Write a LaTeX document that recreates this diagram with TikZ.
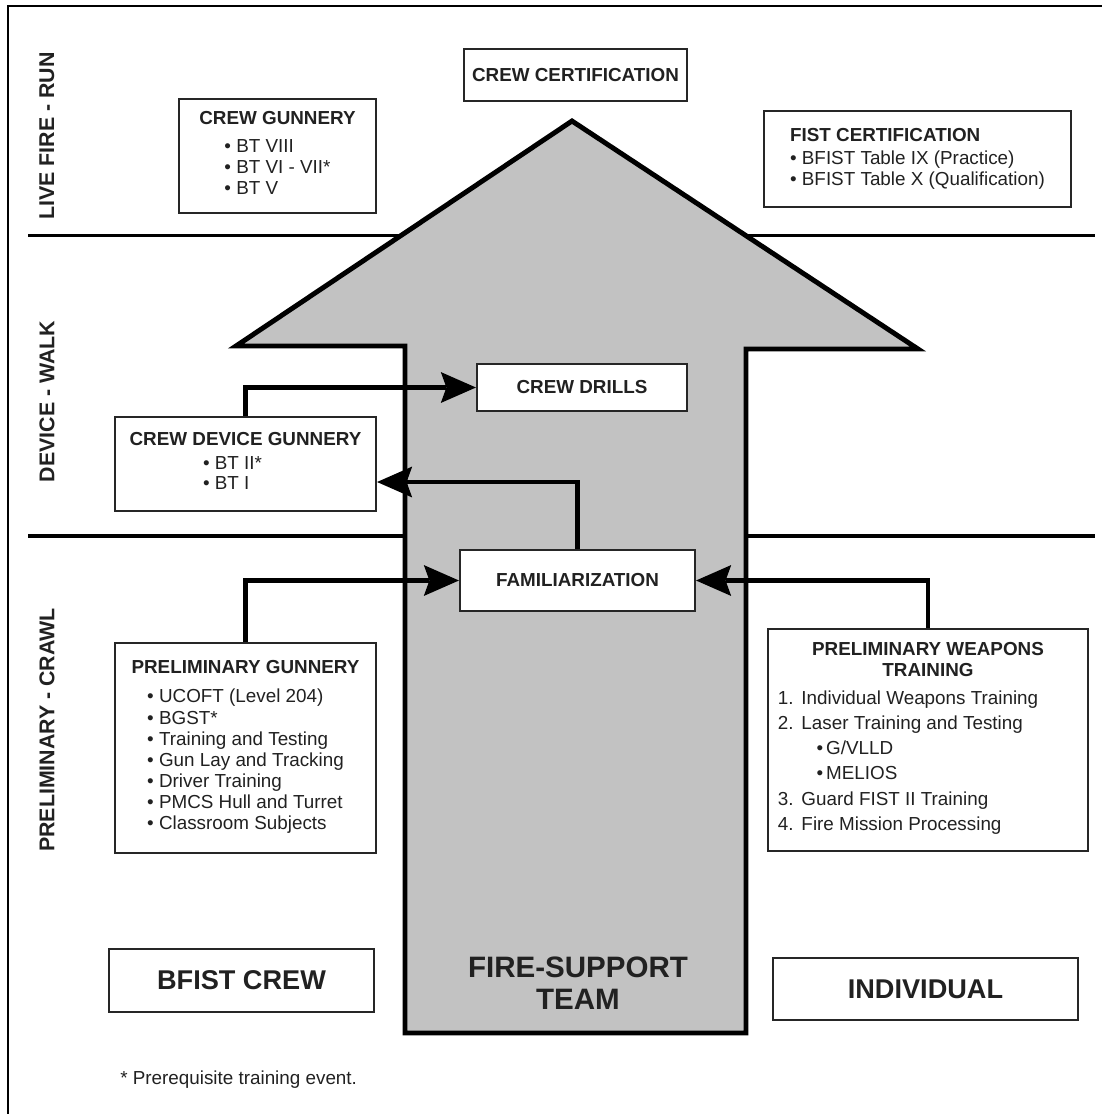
\documentclass[tikz,border=0pt]{standalone}
\usepackage{fontspec}
\setmainfont{Liberation Sans}
\usepackage{xcolor}
\usepackage{tikz}
\usetikzlibrary{arrows.meta}
\newlength{\pix}
\setlength{\pix}{0.025cm}
\definecolor{shaftgray}{gray}{0.76}
\definecolor{inkgray}{gray}{0.13}
\newcommand{\bulletlist}[1]{\begin{tabular}[t]{@{}l@{}}#1\end{tabular}}
\tikzstyle{stagebox}=[draw=black!85, line width=1.5pt, fill=white, inner sep=0pt, align=center, text=inkgray, font=\fontsize{13.4}{15}\selectfont]
\tikzstyle{headbox}=[stagebox, font=\fontsize{13.4}{15}\selectfont\bfseries]
\tikzstyle{levelbox}=[stagebox, font=\fontsize{19.3}{22}\selectfont\bfseries]
\tikzstyle{phaselabel}=[rotate=90, text=inkgray, font=\fontsize{15.2}{17}\selectfont\bfseries]
\tikzstyle{divider}=[line width=2.4pt]
\tikzstyle{feed}=[line width=3.5pt, -{Stealth[length=25pt, width=22pt, inset=4pt, line width=0pt]}]
\tikzstyle{shaft}=[draw, line width=3.5pt, fill=shaftgray, line join=miter]

\begin{document}
\begin{tikzpicture}[x=0.025cm, y=-0.025cm]
    \useasboundingbox (0,0) rectangle (1102,1114);
    \draw[line width=2pt] (8,1130) -- (8,6) -- (1120,6);

    \draw[divider] (28,235.5) -- (1095,235.5);
    \draw[divider] (28,536) -- (1095,536);

    \draw[shaft] (572,121) -- (918,349) -- (746,349) -- (746,1033)
      -- (405,1033) -- (405,346) -- (236,346) -- cycle;

    \node[phaselabel] (run) at (47,136) {LIVE FIRE - RUN};
    \node[phaselabel] (walk) at (47,401.5) {DEVICE - WALK};
    \node[phaselabel] (crawl) at (47,730) {PRELIMINARY - CRAWL};

    \node[headbox, minimum width=223\pix, minimum height=52\pix] (cert) at (575.5,75) {CREW CERTIFICATION};
    \node[stagebox, minimum width=197\pix, minimum height=114\pix] (gunnery) at (277.5,156)
      {\textbf{CREW GUNNERY}\\[5pt]
       \bulletlist{\textbullet\ BT VIII\\ \textbullet\ BT VI - VII*\\ \textbullet\ BT V}};
    \node[stagebox, align=left, minimum width=307\pix, minimum height=96\pix] (fist) at (917.5,159)
      {\textbf{FIST CERTIFICATION}\\[1pt]
       \textbullet\ BFIST Table IX (Practice)\\
       \textbullet\ BFIST Table X (Qualification)};

    \node[headbox, minimum width=210\pix, minimum height=47\pix] (drills) at (582,387.5) {CREW DRILLS};
    \node[stagebox, minimum width=261\pix, minimum height=94\pix] (devgun) at (245.5,464)
      {\textbf{CREW DEVICE GUNNERY}\\[2pt]
       \begin{tabular}[t]{@{}l@{\hspace{26\pix}}}\textbullet\ BT II*\\[-0.8pt] \textbullet\ BT I\end{tabular}};

    \node[headbox, minimum width=235\pix, minimum height=61\pix] (famil) at (577.5,580.5) {FAMILIARIZATION};
    \node[stagebox, minimum width=261\pix, minimum height=210\pix] (prelgun) at (245.5,748)
      {\textbf{PRELIMINARY GUNNERY}\\[6pt]
       \bulletlist{\textbullet\ UCOFT (Level 204)\\ \textbullet\ BGST*\\ \textbullet\ Training and Testing\\
         \textbullet\ Gun Lay and Tracking\\ \textbullet\ Driver Training\\
         \textbullet\ PMCS Hull and Turret\\ \textbullet\ Classroom Subjects}};
    \node[stagebox, minimum width=320\pix, minimum height=222\pix] (pwt) at (928,740)
      {\textbf{PRELIMINARY WEAPONS}\\ \textbf{TRAINING}\\[5pt]
       \renewcommand{\arraystretch}{1.19}%
       \begin{tabular}[t]{@{}r@{\hspace{8\pix}}l@{\hspace{40\pix}}}
         1. & Individual Weapons Training\\
         2. & Laser Training and Testing\\
            & \hspace{15\pix}\textbullet\,G/VLLD\\
            & \hspace{15\pix}\textbullet\,MELIOS\\
         3. & Guard FIST II Training\\
         4. & Fire Mission Processing
       \end{tabular}};

    \node[levelbox, minimum width=265\pix, minimum height=63\pix] (crew) at (241.5,980.5) {BFIST CREW};
    \node[levelbox, minimum width=305\pix, minimum height=62\pix] (indiv) at (925.5,989) {INDIVIDUAL};
    \node[text=inkgray, font=\fontsize{21}{23}\selectfont\bfseries, align=center] (team) at (578,983) {FIRE-SUPPORT\\TEAM};
    \node[anchor=west, inner sep=0pt, text=inkgray, font=\fontsize{13.4}{15}\selectfont] (note) at (120,1080) {* Prerequisite training event.};

    \draw[feed] (devgun.north) |- (drills.west);
    \draw[feed] (famil.north) |- ([yshift=-18\pix]devgun.east);
    \draw[feed] (prelgun.north) |- (famil.west);
    \draw[feed] (pwt.north) |- (famil.east);
\end{tikzpicture}
\end{document}
